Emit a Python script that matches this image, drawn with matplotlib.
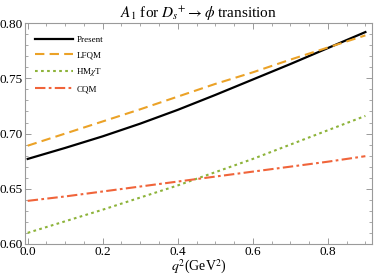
import matplotlib
matplotlib.use("Agg")
import matplotlib.pyplot as plt
from matplotlib.ticker import MultipleLocator

# q^2 grid (GeV^2) and form factor A1 values
q2 = [0.0, 0.1, 0.2, 0.3, 0.4, 0.5, 0.6, 0.7, 0.8, 0.9]
present = [0.677, 0.687, 0.6975, 0.709, 0.7215, 0.735, 0.749, 0.763, 0.7775, 0.792]
lfqm = [0.689, 0.700, 0.711, 0.722, 0.7335, 0.745, 0.7555, 0.767, 0.778, 0.789]
hmxt = [0.610, 0.6205, 0.631, 0.642, 0.653, 0.665, 0.677, 0.690, 0.703, 0.716]
cqm = [0.639, 0.643, 0.6475, 0.652, 0.6565, 0.661, 0.6655, 0.670, 0.6745, 0.6795]

plt.rcParams['font.family'] = ['Liberation Serif', 'DejaVu Serif']
plt.rcParams['mathtext.fontset'] = 'stix'

frame = '#9a9a9a'

fig = plt.figure(figsize=(3.74, 2.80), dpi=100)
ax = fig.add_axes([0.067, 0.129, 0.927, 0.788])

ax.plot(q2, present, color='black', lw=1.6, label='Present')
ax.plot(q2, lfqm, color='#EBA227', lw=1.5, dashes=(4.5, 2.5), label='LFQM')
ax.plot(q2, hmxt, color='#8DB33A', lw=1.5, dashes=(1.3, 1.6), label=r'HM$\chi$T')
ax.plot(q2, cqm, color='#F0643A', lw=1.5, dashes=(5, 1.6, 1.3, 1.6), label='CQM')

ax.set_xlim(-0.007, 0.917)
ax.set_ylim(0.60, 0.80)
ax.xaxis.set_major_locator(MultipleLocator(0.2))
ax.xaxis.set_minor_locator(MultipleLocator(0.05))
ax.yaxis.set_major_locator(MultipleLocator(0.05))
ax.yaxis.set_minor_locator(MultipleLocator(0.01))
ax.xaxis.set_major_formatter(lambda v, p: f"{v:.1f}")
ax.yaxis.set_major_formatter(lambda v, p: f"{v:.2f}")

ax.tick_params(which='both', direction='in', top=True, right=True,
               color=frame, labelsize=9.5, pad=1.5)
ax.tick_params(which='major', length=4.5, width=0.7)
ax.tick_params(which='minor', length=2.5, width=0.6)
for s in ax.spines.values():
    s.set_color(frame)
    s.set_linewidth(0.8)

ax.set_title(r"$A_1$ for $D_s{}^{+} \rightarrow \phi$ transition", fontsize=11, pad=4)
ax.set_xlabel(r"$q^2$(GeV$^2$)", fontsize=10, labelpad=0)

ax.legend(loc='upper left', frameon=False, fontsize=6.5, handlelength=4.2,
          handletextpad=0.4, labelspacing=0.75, borderaxespad=0.5,
          bbox_to_anchor=(0.005, 0.98))

fig.savefig("out.png", dpi=100)
